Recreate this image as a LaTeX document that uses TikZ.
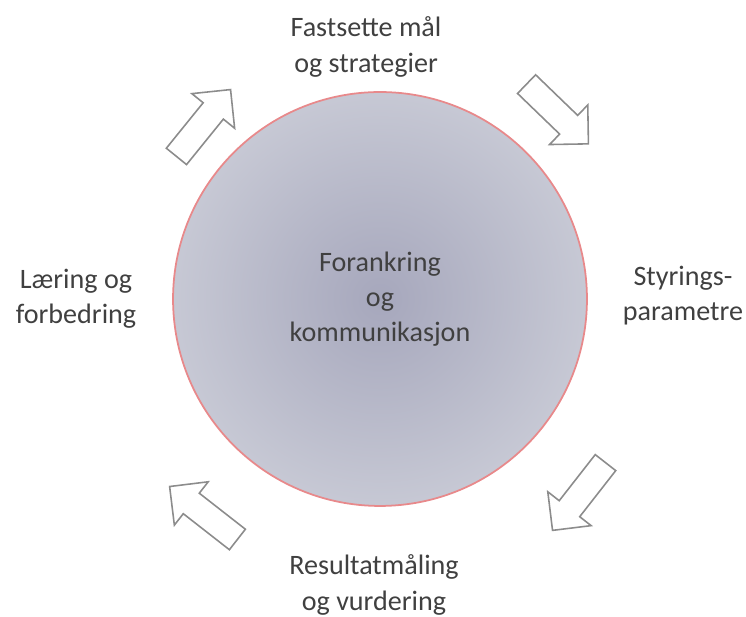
\documentclass[tikz,border=0pt]{standalone}
\usepackage{fontspec}
\setmainfont{Carlito}
\definecolor{txtgray}{HTML}{404040}
\definecolor{rimred}{HTML}{E8898B}
\definecolor{arrgray}{HTML}{8C8C8C}
\definecolor{ballin}{HTML}{A6A7BC}
\definecolor{ballout}{HTML}{D5D7DF}
\pgfdeclareradialshading[ballin,ballout]{ball}{\pgfpoint{0bp}{0bp}}{color(0bp)=(ballin); color(36bp)=(ballout); color(50bp)=(ballout)}

\begin{document}
\begin{tikzpicture}[x=0.02cm,y=0.02cm,
    lbl/.style={align=center,text=txtgray,font=\fontsize{16}{20}\selectfont},
    blockarrow/.pic={
      \draw[draw=arrgray,fill=white,line width=0.9pt,line join=miter]
        (-43,-13) -- (15.5,-13) -- (15.5,-27.5) -- (43,0)
        -- (15.5,27.5) -- (15.5,13) -- (-43,13) -- cycle;
    }]
  \useasboundingbox (0,0) rectangle (746,617);
  % Centre circle
  \node[circle,draw=rimred,line width=1pt,shading=ball,minimum size=8.28cm,inner sep=0pt,lbl]
    (hub) at (380,318) {Forankring\\og\\kommunikasjon};
  % Block arrows round the circle (clockwise)
  \pic[rotate=51] (arrNW) at (203.5,494) {blockarrow};
  \pic[rotate=-44] (arrNE) at (557.5,503) {blockarrow};
  \pic[rotate=-128] (arrSE) at (579,120.5) {blockarrow};
  \pic[rotate=142] (arrSW) at (203.5,104) {blockarrow};
  % Labels
  \node[lbl] (maal) at (366,570) {Fastsette mål\\og strategier};
  \node[lbl] (styr) at (683,321) {Styrings-\\parametre};
  \node[lbl] (resultat) at (374,32) {Resultatmåling\\og vurdering};
  \node[lbl] (laering) at (76,318) {Læring og\\forbedring};
\end{tikzpicture}
\end{document}
